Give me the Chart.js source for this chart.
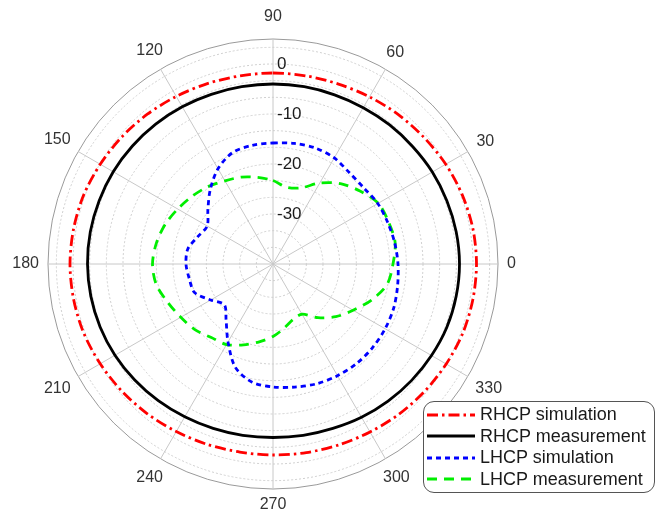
<!DOCTYPE html>
<html><head><meta charset="utf-8">
<script src="https://cdn.jsdelivr.net/npm/chart.js@4.4.1/dist/chart.umd.min.js"></script>
<style>
html,body{margin:0;padding:0;background:#fff;}
#wrap{position:relative;width:663px;height:516px;overflow:hidden;}
#legend{position:absolute;left:423px;top:401px;width:232px;height:92px;box-sizing:border-box;border:1px solid #555;border-radius:11px;background:#fff;font-family:"Liberation Sans",Arial,sans-serif;font-size:18px;color:#1a1a1a;padding-top:2px;}
.row{display:flex;align-items:center;height:21.5px;white-space:nowrap;}
.row svg{margin-left:3px;margin-right:5px;flex:none;}
</style></head><body>
<div id="wrap"><canvas id="c" width="663" height="516"></canvas><div id="legend"></div></div>
<script>
// angles (deg, counter-clockwise from 0 at right)
const angles = [0,10,20,30,40,50,60,70,80,90,100,110,120,130,140,150,160,170,180,190,200,210,220,230,240,250,260,270,280,290,300,310,320,330,340,350];
const rhcpSimulation  = [0.7,0.6,0.3,-0.1,-0.6,-1.0,-1.4,-1.7,-1.8,-1.8,-1.8,-1.6,-1.3,-0.9,-0.5,-0.1,0.3,0.5,0.6,0.5,0.3,-0.1,-0.5,-0.9,-1.3,-1.6,-1.8,-1.8,-1.7,-1.5,-1.2,-0.8,-0.4,0.0,0.4,0.6];
const rhcpMeasurement = [-2.7,-2.8,-3.0,-3.2,-3.5,-3.7,-3.9,-4.0,-4.0,-4.0,-4.0,-3.9,-3.7,-3.5,-3.3,-3.1,-3.0,-2.9,-2.9,-3.0,-3.2,-3.5,-3.9,-4.3,-4.7,-5.0,-5.2,-5.3,-5.2,-5.0,-4.6,-4.2,-3.8,-3.4,-3.0,-2.8];
const lhcpSimulation  = [-15.0,-15.3,-15.6,-15.8,-16.3,-16.2,-15.5,-15.3,-15.5,-15.8,-15.9,-16.3,-18.0,-20.5,-23.0,-24.8,-24.0,-22.7,-22.6,-23.0,-23.3,-25.6,-27.3,-25.4,-22.0,-18.0,-16.0,-15.4,-15.0,-14.5,-14.2,-14.0,-14.0,-14.1,-14.3,-14.7];
const lhcpMeasurement = [-16.0,-15.2,-15.4,-15.7,-17.3,-19.0,-21.3,-23.8,-24.4,-23.3,-22.4,-21.5,-20.8,-19.8,-18.9,-18.0,-17.0,-16.3,-15.9,-16.3,-17.6,-18.7,-19.6,-20.8,-21.4,-22.8,-24.2,-25.5,-27.0,-28.2,-28.4,-26.0,-23.6,-21.5,-19.0,-16.8];
const radialTickLabels = [0,-10,-20,-30];
const seriesNames = ["RHCP simulation","RHCP measurement","LHCP simulation","LHCP measurement"];

const seriesData = [rhcpSimulation, rhcpMeasurement, lhcpSimulation, lhcpMeasurement];
const styles = [
  {color:'#ff0000', dash:[11,4,2.5,4], width:2.8},
  {color:'#000000', dash:[], width:2.8},
  {color:'#0000ff', dash:[5,4], width:2.8},
  {color:'#00ee00', dash:[10,7], width:2.8}
];

// Chart.js radar runs clockwise from the top: order angles 90, 80, ..., 0, 350, ...
const thetaOrder = angles.map((_, i) => (90 - 10 * i + 360) % 360);
const pick = arr => thetaOrder.map(a => arr[angles.indexOf(a)]);

const labelPlugin = {
  id: 'polarLabels',
  beforeDatasetsDraw(chart) {
    const s = chart.scales.r, c = chart.ctx;
    c.save();
    c.font = '17px "Liberation Sans", Arial, sans-serif';
    c.fillStyle = '#1a1a1a';
    c.textAlign = 'left';
    c.textBaseline = 'middle';
    radialTickLabels.forEach(v => {
      const d = s.getDistanceFromCenterForValue(v);
      c.fillText(String(v), s.xCenter + 4, s.yCenter - d);
    });
    c.font = '16px "Liberation Sans", Arial, sans-serif';
    c.fillStyle = '#333333';
    c.textAlign = 'center';
    chart.data.labels.forEach((lab, i) => {
      const a = +lab;
      if (a % 30 !== 0) return;
      const w = c.measureText(lab).width;
      const th = a * Math.PI / 180;
      const extra = (a === 90) ? 6 : 0;
      const d = s.drawingArea + 9 + extra + Math.abs(Math.cos(th)) * w / 2 + Math.abs(Math.sin(th)) * 7;
      const p = s.getPointPosition(i, d);
      c.fillText(lab, p.x, p.y);
    });
    c.restore();
  }
};

new Chart(document.getElementById('c'), {
  type: 'radar',
  data: {
    labels: thetaOrder.map(String),
    datasets: seriesData.map((arr, k) => ({
      label: seriesNames[k],
      data: pick(arr),
      borderColor: styles[k].color,
      borderDash: styles[k].dash,
      borderWidth: styles[k].width,
      backgroundColor: 'rgba(0,0,0,0)',
      fill: false,
      pointRadius: 0,
      tension: 0.3
    }))
  },
  options: {
    responsive: false,
    animation: false,
    events: [],
    layout: {padding: {left: 48, top: 39, right: 165, bottom: 27}},
    plugins: {legend: {display: false}, tooltip: {enabled: false}},
    scales: {
      r: {
        min: -40, max: 5, startAngle: 0,
        ticks: {stepSize: 10 / 3, display: false},
        grid: {
          circular: true,
          color: c => (c.tick && Math.abs(c.tick.value - 5) < 1e-6) ? '#9a9a9a' : '#cfcfcf',
          lineWidth: 1
        },
        border: {dash: c => (c.tick && Math.abs(c.tick.value - 5) < 1e-6) ? [] : [2, 2]},
        angleLines: {
          color: c => c.label !== '' ? '#c8c8c8' : 'rgba(0,0,0,0)',
          lineWidth: c => c.label !== '' ? 1 : 0
        },
        pointLabels: {display: false, callback: l => (+l) % 30 === 0 ? l : ''}
      }
    }
  },
  plugins: [labelPlugin]
});

// legend (HTML, real text)
const lg = document.getElementById('legend');
seriesNames.forEach((name, k) => {
  const row = document.createElement('div');
  row.className = 'row';
  const st = styles[k];
  row.innerHTML = '<svg width="48" height="10"><line x1="0" y1="5" x2="48" y2="5" stroke="' + st.color +
    '" stroke-width="' + st.width + '" stroke-dasharray="' + (st.dash.length ? st.dash.join(',') : 'none') + '"/></svg>';
  const sp = document.createElement('span');
  sp.textContent = name;
  row.appendChild(sp);
  lg.appendChild(row);
});
</script>
</body></html>
